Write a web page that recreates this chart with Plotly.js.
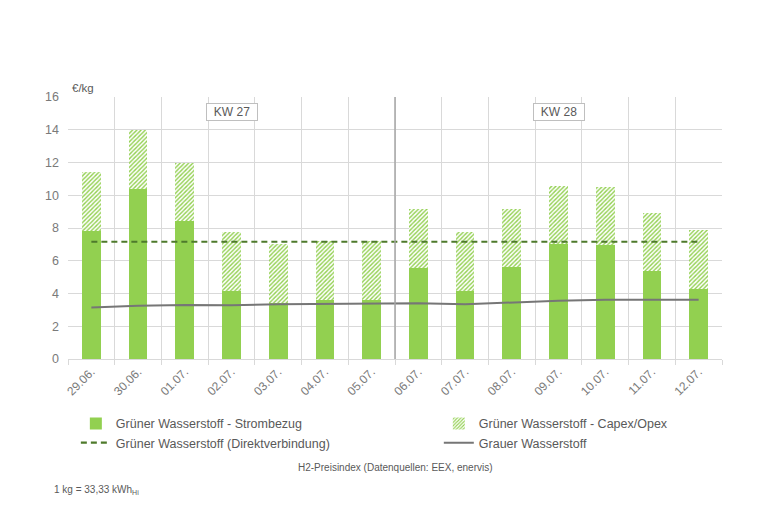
<!DOCTYPE html>
<html>
<head>
<meta charset="utf-8">
<script src="https://cdn.plot.ly/plotly-3.0.1.min.js"></script>
<style>
  html, body { margin: 0; padding: 0; background: #fff; }
  #chart { width: 760px; height: 525px; }
</style>
</head>
<body>
<div id="chart"></div>
<script>
// H2-Preisindex, KW 27/28
const tage = ['29.06.', '30.06.', '01.07.', '02.07.', '03.07.', '04.07.', '05.07.',
              '06.07.', '07.07.', '08.07.', '09.07.', '10.07.', '11.07.', '12.07.'];
const strombezug = [7.8, 10.4, 8.4, 4.15, 3.4, 3.6, 3.6, 5.55, 4.15, 5.6, 7.0, 6.95, 5.35, 4.25];
const capexOpex = [3.6, 3.6, 3.6, 3.6, 3.6, 3.6, 3.6, 3.6, 3.58, 3.56, 3.56, 3.56, 3.56, 3.6];
const direkt = [7.16, 7.16, 7.16, 7.16, 7.16, 7.16, 7.16, 7.16, 7.16, 7.16, 7.16, 7.16, 7.16, 7.16];
const grau = [3.15, 3.25, 3.3, 3.28, 3.35, 3.37, 3.38, 3.4, 3.34, 3.45, 3.56, 3.62, 3.62, 3.62];
const yTicks = [0, 2, 4, 6, 8, 10, 12, 14, 16];

const textGrey = '#595959';
const tickGrey = '#7a7a7a';
const gridGrey = '#D9D9D9';
const green = '#92D050';

var traces = [
    {
        name: 'Grüner Wasserstoff - Strombezug',
        x: tage, y: strombezug, type: 'bar', width: 0.4, legend: 'legend',
        marker: { color: green, line: { width: 0 } }
    },
    {
        name: 'Grüner Wasserstoff - Capex/Opex',
        x: tage, y: capexOpex, type: 'bar', width: 0.4, legend: 'legend2',
        marker: {
            color: 'white',
            line: { width: 0 },
            pattern: { shape: '/', fgcolor: green, bgcolor: 'white', size: 3, solidity: 0.45 }
        }
    },
    {
        name: 'Grüner Wasserstoff (Direktverbindung)',
        x: tage, y: direkt, type: 'scatter', mode: 'lines', legend: 'legend',
        line: { color: '#4E7A2B', width: 2.2, dash: '6px,4px' }
    },
    {
        name: 'Grauer Wasserstoff',
        x: tage, y: grau, type: 'scatter', mode: 'lines', legend: 'legend2',
        line: { color: '#767676', width: 2 }
    }
];

// two vertical legends side by side
var legendBase = {
    orientation: 'v',
    xanchor: 'left',
    y: -0.19, yanchor: 'top',
    itemwidth: 30,
    traceorder: 'normal',
    bgcolor: 'rgba(0,0,0,0)',
    font: { size: 12.5, color: textGrey },
    tracegroupgap: 0
};

var layout = {
    width: 760, height: 525,
    margin: { l: 68, r: 38, t: 97, b: 166 },
    paper_bgcolor: 'white', plot_bgcolor: 'white',
    font: { family: 'Liberation Sans, Arial, sans-serif', size: 12, color: textGrey },
    barmode: 'stack',
    showlegend: true,
    xaxis: {
        type: 'category',
        tickson: 'boundaries',
        ticks: 'outside', ticklen: 5, tickcolor: gridGrey,
        tickangle: -45,
        showgrid: true, gridcolor: gridGrey, gridwidth: 1,
        showline: true, linecolor: gridGrey, linewidth: 1,
        tickfont: { size: 12, color: tickGrey },
        range: [-0.5, tage.length - 0.5],
        fixedrange: true
    },
    yaxis: {
        range: [0, 16],
        tickvals: yTicks,
        ticktext: yTicks.map(String),
        showgrid: true, gridcolor: gridGrey, gridwidth: 1,
        zeroline: false,
        showline: false,
        ticklabelstandoff: 8,
        tickfont: { size: 12.5, color: tickGrey },
        fixedrange: true
    },
    legend: Object.assign({}, legendBase, { x: 0.012 }),
    legend2: Object.assign({}, legendBase, { x: 0.567 }),
    shapes: [
        {
            type: 'line', xref: 'x', yref: 'paper',
            x0: 6.5, x1: 6.5, y0: 0, y1: 1,
            line: { color: '#A6A6A6', width: 1.5 }
        }
    ],
    annotations: [
        {
            text: '€/kg', xref: 'paper', yref: 'paper', x: 0.003, y: 1.034,
            xanchor: 'left', yanchor: 'middle', showarrow: false,
            font: { size: 11.5, color: textGrey }
        },
        {
            text: 'KW 27', xref: 'x', yref: 'y', x: tage[3], y: 15.1,
            showarrow: false, bgcolor: 'white', bordercolor: '#BFBFBF', borderwidth: 1,
            borderpad: 1, width: 48,
            font: { size: 12, color: textGrey }
        },
        {
            text: 'KW 28', xref: 'x', yref: 'y', x: tage[10], y: 15.1,
            showarrow: false, bgcolor: 'white', bordercolor: '#BFBFBF', borderwidth: 1,
            borderpad: 1, width: 48,
            font: { size: 12, color: textGrey }
        },
        {
            text: 'H2-Preisindex (Datenquellen: EEX, enervis)',
            xref: 'paper', yref: 'paper', x: 0.5, y: -0.416,
            xanchor: 'center', yanchor: 'middle', showarrow: false,
            font: { size: 10, color: textGrey }
        },
        {
            text: '1 kg = 33,33 kWh<sub>Hi</sub>',
            xref: 'paper', yref: 'paper', x: -0.024, y: -0.5,
            xanchor: 'left', yanchor: 'middle', showarrow: false,
            font: { size: 10, color: textGrey }
        }
    ]
};

Plotly.newPlot('chart', traces, layout, { displayModeBar: false, staticPlot: true });
</script>
</body>
</html>
